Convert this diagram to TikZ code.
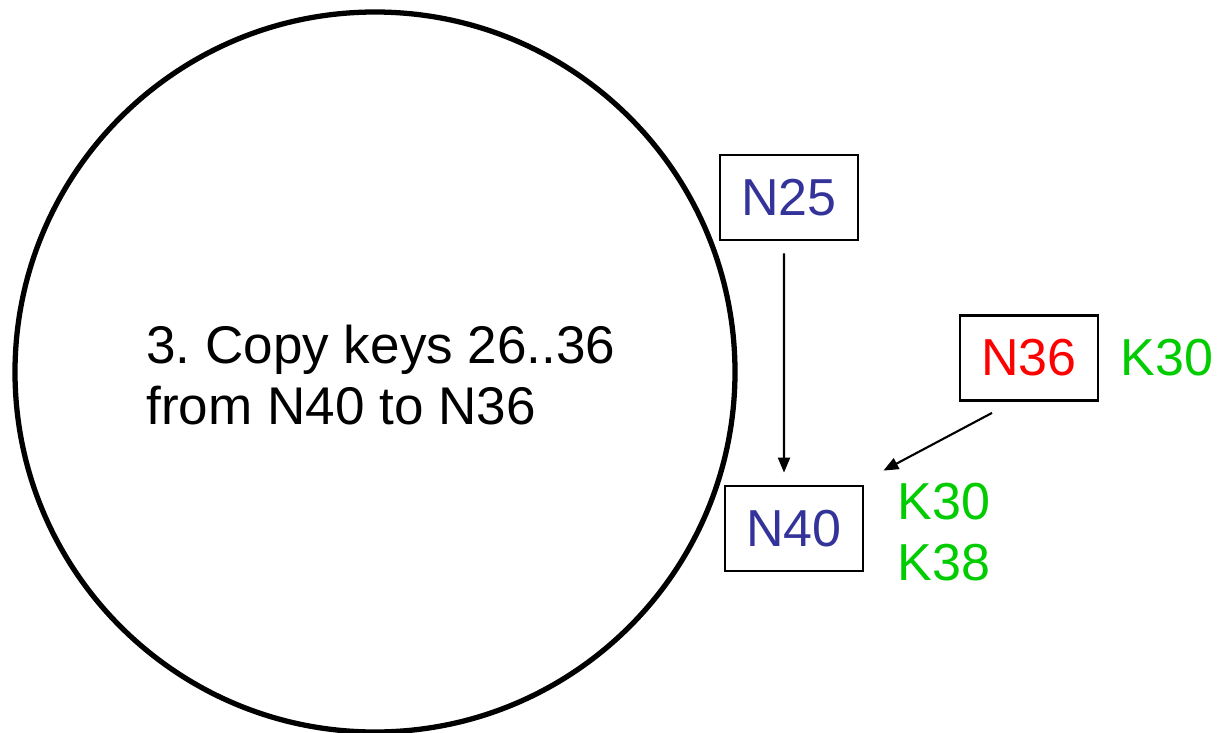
\documentclass[tikz,border=0pt]{standalone}
\usepackage{fontspec}
\setmainfont{Liberation Sans}
\usepackage{xcolor}
\usetikzlibrary{arrows.meta}
\definecolor{nodeblue}{HTML}{333399}
\definecolor{keygreen}{HTML}{00CC00}

\begin{document}
\begin{tikzpicture}[>={Triangle[length=0.15cm, width=0.12cm]}, every node/.style={font=\fontsize{14.8}{17.5}\selectfont}, box/.style={rectangle, draw, line width=0.8pt, minimum width=1.38cm, minimum height=0.85cm, inner sep=0pt}]
                \useasboundingbox (0,0) rectangle (12.18,7.32);
                % Ring
                \draw[line width=1.5pt] (3.75,3.60) circle (3.60);
                \node[align=left, anchor=west, font=\fontsize{15.1}{17.2}\selectfont] (step) at (1.34,3.57) {3.\ Copy keys 26..36\\from N40 to N36};

                % Nodes on the ring
                \node[box, text=nodeblue] (N25) at (7.89,5.345) {N25};
                \node[box, text=red] (N36) at (10.29,3.74) {N36};
                \node[box, text=nodeblue] (N40) at (7.94,2.035) {N40};

                % Keys held by each node
                \node[text=keygreen] (K36) at (11.67,3.74) {K30};
                \node[text=keygreen, align=left] (K40) at (9.44,2.00) {K30\\K38};

                \draw[->, line width=0.6pt] ([xshift=-0.05cm, yshift=-0.12cm]N25.south) -- ([xshift=-0.10cm, yshift=0.12cm]N40.north);
                \draw[->, line width=0.6pt] ([xshift=-0.37cm, yshift=-0.11cm]N36.south) -- ([xshift=0.19cm, yshift=0.14cm]N40.north east); % Copy keys
            \end{tikzpicture}
\end{document}
